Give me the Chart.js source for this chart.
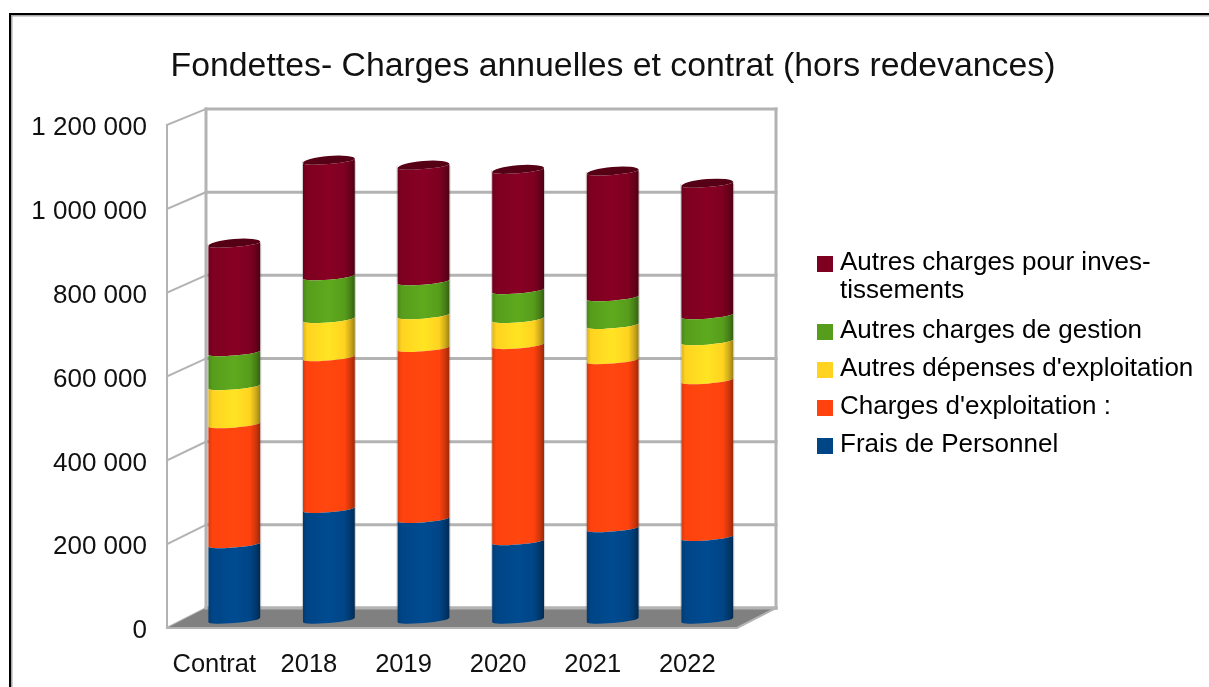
<!DOCTYPE html>
<html><head><meta charset="utf-8">
<style>html,body{margin:0;padding:0;background:#fff}canvas{display:block;filter:blur(0.55px)}</style>
<script src="https://cdn.jsdelivr.net/npm/chart.js@4"></script>
</head><body>
<canvas id="c" width="1209" height="687"></canvas>
<script>
const categories = ['Contrat','2018','2019','2020','2021','2022'];
const fraisPersonnel = [180000,264000,240000,187000,218000,197000];
const chargesExploitation = [286000,362000,408000,468000,401000,374000];
const autresDepenses = [91000,91000,78000,62000,84000,93000];
const autresGestion = [81000,102000,81000,69000,66000,62000];
const autresInvest = [259000,276000,276000,287000,300000,314000];
const titleText = 'Fondettes- Charges annuelles et contrat (hors redevances)';
const seriesNames = ['Frais de Personnel',"Charges d'exploitation :","Autres dépenses d'exploitation",'Autres charges de gestion','Autres charges pour investissements'];
const legendLines = {'Autres charges pour investissements':['Autres charges pour inves-','tissements']};
const colors = ['#004586','#ff420e','#ffd320','#579d1c','#7e0021'];

const DEPTH_X = 39, BAR_DX = 20, BAR_DY = -8, RY_FRONT = 3, RY_BACK = 5, TILT = -0.083;
const GRID = '#b3b3b3', INK = '#111';

function shade(hex, k){
  const n = parseInt(hex.slice(1),16);
  return 'rgb('+[(n>>16)&255,(n>>8)&255,n&255].map(v=>Math.min(255,Math.round(v*k))).join(',')+')';
}
function legendSwatch(col){
  const cv = document.createElement('canvas'); cv.width = 20; cv.height = 18;
  const g = cv.getContext('2d'); g.fillStyle = col; g.fillRect(4,2,16,16);
  return cv;
}
const wallPlugin = {
  id:'wall',
  beforeDraw(chart){
    const {ctx, chartArea:a, scales:{y}} = chart;
    const backY = p => 109 + (p-125)*(499/503);
    const L = a.left, R = a.right+2.4, BL = L+DEPTH_X, BR = R+DEPTH_X;
    ctx.save();
    ctx.fillStyle='#fff'; ctx.fillRect(0,0,chart.width,chart.height);
    ctx.fillStyle='#a8a8a8'; ctx.fillRect(11,15,chart.width,1.5); ctx.fillRect(11,15,1.5,chart.height);
    ctx.fillStyle='#000'; ctx.fillRect(9,13,chart.width,2); ctx.fillRect(9,13,2,chart.height);
    ctx.strokeStyle=GRID; ctx.lineCap='square';
    y.ticks.forEach(t=>{
      const p = y.getPixelForValue(t.value), q = backY(p);
      ctx.lineWidth=3; ctx.beginPath(); ctx.moveTo(BL,q); ctx.lineTo(BR,q); ctx.stroke();
      ctx.lineWidth=2; ctx.beginPath(); ctx.moveTo(L,p); ctx.lineTo(BL,q); ctx.stroke();
    });
    const top = backY(a.top), bot = backY(a.bottom);
    ctx.lineWidth=3;
    ctx.beginPath(); ctx.moveTo(BL,top); ctx.lineTo(BL,bot); ctx.moveTo(BR,top); ctx.lineTo(BR,bot); ctx.stroke();
    ctx.lineWidth=2;
    ctx.beginPath(); ctx.moveTo(L,a.top); ctx.lineTo(L,a.bottom); ctx.stroke();
    ctx.fillStyle='#808080';
    ctx.beginPath(); ctx.moveTo(L,a.bottom); ctx.lineTo(R,a.bottom); ctx.lineTo(BR,bot); ctx.lineTo(BL,bot); ctx.closePath(); ctx.fill();
    ctx.lineWidth=2; ctx.strokeStyle=GRID;
    ctx.beginPath(); ctx.moveTo(L,a.bottom); ctx.lineTo(R,a.bottom); ctx.lineTo(BR,bot); ctx.stroke();
    ctx.lineWidth=3;
    ctx.beginPath(); ctx.moveTo(BL,bot); ctx.lineTo(BR,bot); ctx.stroke();
    ctx.restore();
  },
  afterLayout(chart){
    const t = chart.titleBlock; t.left = 17; t.right = 1209;
    const l = chart.legend;
    l.left = 807; l.right = 1209; l.width = 402; l.top = 238; l.bottom = 521; l.height = 283;
  },
  beforeDatasetDraw(chart, args){
    const {ctx} = chart, meta = args.meta, last = args.index === chart.data.datasets.length-1;
    const col = chart.data.datasets[args.index].backgroundColor;
    meta.data.forEach(el=>{
      const cx = el.x+BAR_DX, yTop = el.y+BAR_DY, yBase = el.base+BAR_DY, rx = el.width/2;
      const g = ctx.createLinearGradient(cx-rx,0,cx+rx,0);
      g.addColorStop(0,shade(col,.85)); g.addColorStop(.08,shade(col,1)); g.addColorStop(.5,shade(col,1.08));
      g.addColorStop(.8,shade(col,1)); g.addColorStop(.92,shade(col,.8)); g.addColorStop(1,shade(col,.6));
      ctx.save();
      ctx.strokeStyle='rgba(120,120,120,.35)'; ctx.lineWidth=1;
      ctx.beginPath();
      ctx.moveTo(cx-rx-.5,yTop); ctx.lineTo(cx-rx-.5,yBase);
      ctx.moveTo(cx+rx+.5,yTop); ctx.lineTo(cx+rx+.5,yBase);
      ctx.stroke();
      ctx.fillStyle = g;
      ctx.beginPath();
      ctx.ellipse(cx,yBase,rx,RY_FRONT,TILT,Math.PI,0,true);
      ctx.ellipse(cx,yTop,rx,RY_FRONT,TILT,0,Math.PI,false);
      ctx.closePath(); ctx.fill();
      if(last){
        ctx.fillStyle = shade(col,.68);
        ctx.beginPath();
        ctx.ellipse(cx,yTop,rx,RY_FRONT,TILT,0,Math.PI,false);
        ctx.ellipse(cx,yTop,rx,RY_BACK,TILT,Math.PI,Math.PI*2,false);
        ctx.closePath(); ctx.fill();
      }
      ctx.restore();
    });
    return false;
  }
};
const family = '"Liberation Sans"';
const seriesData = [fraisPersonnel,chargesExploitation,autresDepenses,autresGestion,autresInvest];
new Chart(document.getElementById('c'),{
  type:'bar',
  plugins:[wallPlugin],
  data:{labels:categories,datasets:seriesData.map((d,i)=>({label:seriesNames[i],data:d,backgroundColor:colors[i],barThickness:52}))},
  options:{
    responsive:false,animation:false,
    layout:{padding:{right:474.4}},
    scales:{
      x:{stacked:true,grid:{display:false,drawTicks:false},border:{display:false},
         ticks:{color:INK,font:{family,size:25.5,lineHeight:1.2},padding:22,maxRotation:0,autoSkip:false},
         afterFit(s){s.height=59;}},
      y:{stacked:true,min:0,max:1200000,grid:{display:false,drawTicks:false},border:{display:false},
         ticks:{color:INK,font:{family,size:26,lineHeight:1.2},stepSize:200000,padding:20,labelOffset:3,
           callback:v=>String(v).replace(/\B(?=(\d{3})+$)/g,' ')},
         afterFit(s){s.width=167;}}
    },
    plugins:{
      title:{display:true,text:titleText,color:INK,
        font:{family,size:33.8,weight:'normal',lineHeight:1.2},
        padding:{top:46.7,bottom:37.74}},
      tooltip:{enabled:false},
      legend:{position:'chartArea',align:'start',
        labels:{font:{family,size:26,lineHeight:28/26},color:INK,padding:12,usePointStyle:true,pointStyleWidth:8,boxHeight:16,
          generateLabels(chart){
            return chart.data.datasets.map((d,i)=>({
              text:legendLines[d.label]||d.label,fillStyle:d.backgroundColor,strokeStyle:d.backgroundColor,
              lineWidth:0,pointStyle:legendSwatch(d.backgroundColor),datasetIndex:i,hidden:false
            })).reverse();
          }}}
    }
  }
});
</script>
</body></html>
